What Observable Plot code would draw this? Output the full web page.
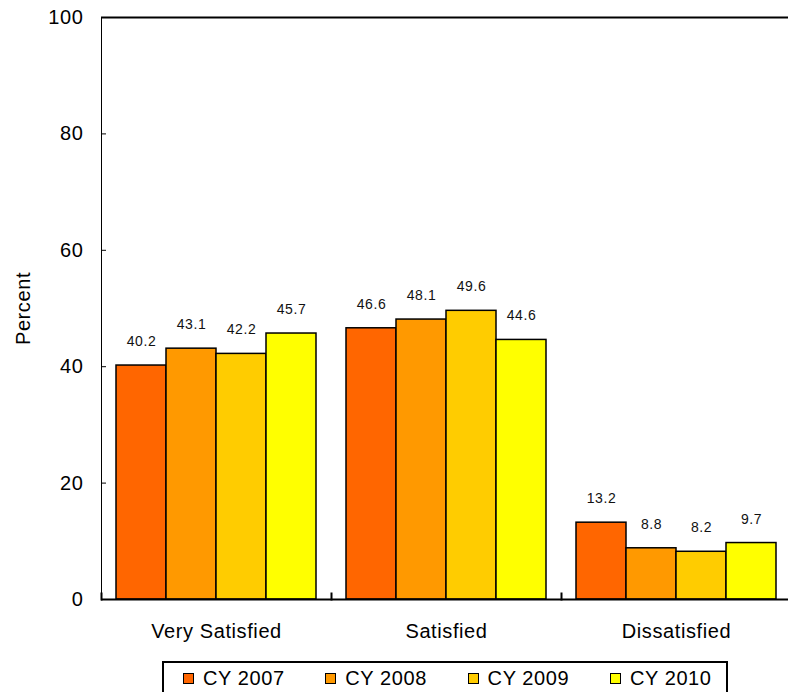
<!DOCTYPE html>
<html>
<head>
<meta charset="utf-8">
<script src="https://cdn.jsdelivr.net/npm/d3@7"></script>
<script src="https://cdn.jsdelivr.net/npm/@observablehq/plot@0.6"></script>
<style>
  html, body { margin: 0; padding: 0; background: #fff; overflow: hidden; }
  #wrap { position: relative; width: 788px; height: 692px; overflow: hidden; font-family: "Liberation Sans", Arial, sans-serif; }
  #chart { position: absolute; left: 0; top: 0; width: 792px; }
  #chart svg { max-width: none !important; }
  #legend { position: absolute; left: 162px; top: 661px; width: 566px; height: 40px;
            border: 2px solid #000; box-sizing: border-box; }
  .item { position: absolute; top: 3px; display: flex; align-items: center; font-size: 20px; letter-spacing: 0.6px; color: #000; line-height: 24px; }
  .sw { width: 9px; height: 9px; border: 1px solid #000; margin-right: 9px; }
</style>
</head>
<body>
<div id="wrap">
  <div id="chart"></div>
  <div id="legend"></div>
</div>
<script>
const categories = ["Very Satisfied", "Satisfied", "Dissatisfied"];
const years = ["CY 2007", "CY 2008", "CY 2009", "CY 2010"];
const colors = ["#FF6600", "#FF9900", "#FFCC00", "#FFFF00"];
const verySatisfied = [40.2, 43.1, 42.2, 45.7];
const satisfied = [46.6, 48.1, 49.6, 44.6];
const dissatisfied = [13.2, 8.8, 8.2, 9.7];
const yTicks = [0, 20, 40, 60, 80, 100];

const seriesByCat = [verySatisfied, satisfied, dissatisfied];
const rows = [];
categories.forEach((c, ci) => years.forEach((y, yi) => rows.push({cat: c, year: y, value: seriesByCat[ci][yi]})));

const plot = Plot.plot({
  width: 792,
  height: 652,
  marginLeft: 100,
  marginRight: 0,
  marginTop: 17,
  marginBottom: 53,
  style: {fontFamily: "Liberation Sans, Arial, sans-serif", fontSize: "20px", color: "#000", background: "transparent"},
  fx: {domain: categories, padding: 0, tickSize: 0, tickPadding: 24, label: null},
  x: {domain: years, paddingInner: 0, paddingOuter: 0.3, axis: null},
  y: {domain: [0, 100], ticks: yTicks, tickSize: -5, tickPadding: 23, label: "Percent", labelArrow: "none", labelAnchor: "center", labelOffset: 86, line: true},
  color: {domain: years, range: colors},
  marks: [
    Plot.barY(rows, {fx: "cat", x: "year", y: "value", fill: "year", stroke: "#000", strokeWidth: 1.5}),
    Plot.text(rows, {fx: "cat", x: "year", y: "value", text: d => d.value.toFixed(1), dy: -24, fontSize: 14, fill: "#111"}),
    Plot.ruleY([0, 100], {stroke: "#000", strokeWidth: 2}),
    Plot.frame({anchor: "left", insetTop: 576, stroke: "#000", strokeWidth: 2})
  ]
});
document.getElementById("chart").appendChild(plot);
d3.select(plot).selectAll("text").style("letter-spacing", "0.6px");

const legend = document.getElementById("legend");
years.forEach((y, i) => {
  const it = document.createElement("div");
  it.className = "item";
  it.style.left = (19 + i * 142.3) + "px";
  const sw = document.createElement("div");
  sw.className = "sw";
  sw.style.background = colors[i];
  const tx = document.createElement("span");
  tx.textContent = y;
  it.appendChild(sw);
  it.appendChild(tx);
  legend.appendChild(it);
});
</script>
</body>
</html>
